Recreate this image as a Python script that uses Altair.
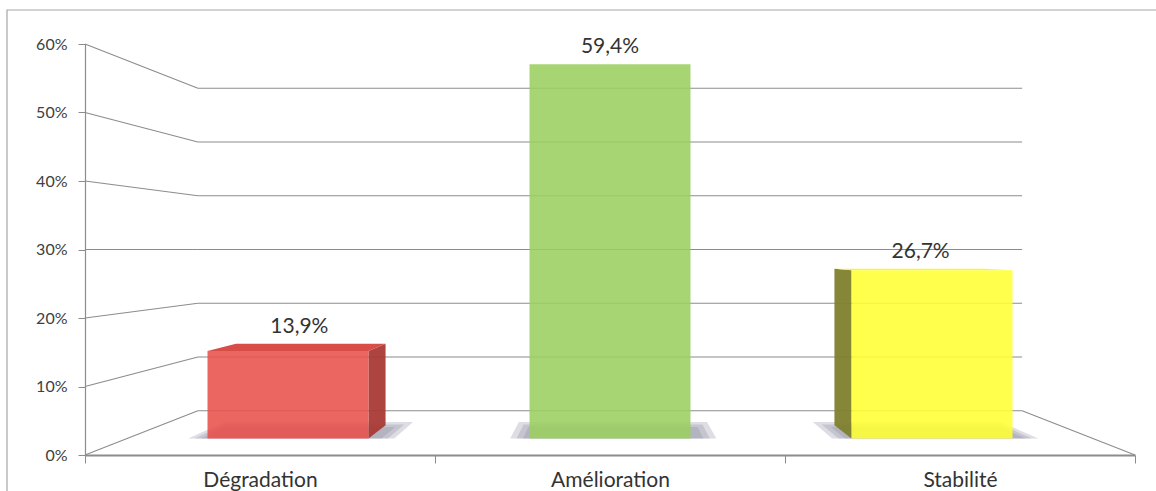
import altair as alt
import pandas as pd

# Chart data
categories = ["Dégradation", "Amélioration", "Stabilité"]
shares = [13.9, 59.4, 26.7]
tick_values = [0, 10, 20, 30, 40, 50, 60]

front_colors = ["#e8514b", "#9bcf60", "#ffff33"]
top_colors = ["#d6433e", "#8fc455", "#f4f43c"]
side_colors = ["#a93a35", "#6f9a3e", "#7f7f2e"]

# Simple one-point perspective: a point (u, v) on a plane at depth factor k
# is pulled toward the vanishing point (VP_U, VP_V).
VP_U, VP_V = 1.5, 30.0
K_WALL = 0.785      # back wall / back of the floor
K_FRONT = 0.92      # front face of the columns
K_BACK = 0.855      # back face of the columns
K_SHADOW = 0.84     # far edge of the floor shadow
HALF = 0.25         # half column width, in category units
N = len(categories)


def project(u, v, k):
    return VP_U + k * (u - VP_U), VP_V + k * (v - VP_V)


# Walls and floor outline
wall_rows = []
for t in tick_values:
    fx, fy = project(0, t, 1.0)
    bx, by = project(0, t, K_WALL)
    ex, ey = project(N, t, K_WALL)
    wall_rows.append({"x": fx, "y": fy, "x2": bx, "y2": by})   # side wall
    wall_rows.append({"x": bx, "y": by, "x2": ex, "y2": ey})   # back wall
bx, by = project(N, 0, K_WALL)
fx, fy = project(N, 0, 1.0)
wall_rows.append({"x": bx, "y": by, "x2": fx, "y2": fy})       # floor edge
walls = pd.DataFrame(wall_rows)

# Column geometry
front_rows, top_rows, side_rows, shadow_rows, label_rows = [], [], [], [], []
for i, (cat, val) in enumerate(zip(categories, shares)):
    u0, u1 = i + 0.5 - HALF, i + 0.5 + HALF
    fx0, fy0 = project(u0, 0, K_FRONT)
    fx1, fyv = project(u1, val, K_FRONT)
    front_rows.append({"cat": cat, "fill": front_colors[i],
                       "x": fx0, "x2": fx1, "y": fy0, "y2": fyv})

    # soft floor shadow, built from a few stacked translucent layers
    for j, grow in enumerate((0.06, 0.04, 0.02)):
        for k in (K_FRONT, K_SHADOW + 0.012 * j):
            sx0, sy = project(u0 - grow, 0, k)
            sx1, _ = project(u1 + grow + 0.02, 0, k)
            shadow_rows.append({"part": f"{cat}-{j}", "x": sx0, "x2": sx1, "y": sy})

    # top face, seen from above when the column is below eye level
    if val < VP_V:
        for k in (K_FRONT, K_BACK):
            tx0, ty = project(u0, val, k)
            tx1, _ = project(u1, val, k)
            top_rows.append({"cat": cat, "fill": top_colors[i], "x": tx0, "x2": tx1, "y": ty})

    # visible side face
    su = None
    if u1 < VP_U:
        su = u1
    elif u0 > VP_U:
        su = u0
    if su is not None:
        for k in (K_FRONT, K_BACK):
            sx, sy0 = project(su, 0, k)
            _, syv = project(su, val, k)
            side_rows.append({"cat": cat, "fill": side_colors[i], "x": sx, "y": sy0, "y2": syv})

    lx, _ = project(i + 0.5, val, (K_FRONT + K_BACK) / 2)
    ly = max(project(i + 0.5, val, K_FRONT)[1], project(i + 0.5, val, K_BACK)[1])
    label_rows.append({"cat": cat, "x": lx, "y": ly,
                       "text": f"{val:.1f}".replace(".", ",") + "%"})

fronts = pd.DataFrame(front_rows)
tops = pd.DataFrame(top_rows)
sides = pd.DataFrame(side_rows)
shadows = pd.DataFrame(shadow_rows)
labels = pd.DataFrame(label_rows)

FONT = "Lato"
GRID = "#8c8c8c"
xs = alt.Scale(domain=[0, N], nice=False, zero=False)
ys = alt.Scale(domain=[0, 60], nice=False, zero=False)
y_axis = alt.Axis(
    values=tick_values, labelExpr="datum.value + '%'", title=None, grid=False,
    tickSize=7, tickColor=GRID, domainColor=GRID, domainWidth=1.2, labelFont=FONT,
    labelFontSize=16, labelColor="#404040", labelPadding=11)


def X(field="x"):
    return alt.X(f"{field}:Q", scale=xs, axis=None)


def Y(field="y"):
    return alt.Y(f"{field}:Q", scale=ys, axis=y_axis)


FILL = alt.Color("fill:N", scale=None)

wall_layer = alt.Chart(walls).mark_rule(color=GRID, strokeWidth=1.1).encode(
    x=X(), x2="x2", y=Y(), y2="y2")

shadow_layer = alt.Chart(shadows).mark_area(
    orient="horizontal", color="#8e8ea2", opacity=0.3).encode(
    y=Y(), x=X(), x2="x2", detail="part:N")

side_layer = alt.Chart(sides).mark_area(orient="vertical", opacity=0.95).encode(
    x=X(), y=Y(), y2="y2", detail="cat:N", color=FILL)

top_layer = alt.Chart(tops).mark_area(orient="horizontal", opacity=0.95).encode(
    y=Y(), x=X(), x2="x2", detail="cat:N", color=FILL)

front_layer = alt.Chart(fronts).mark_rect(opacity=0.88).encode(
    x=X(), x2="x2", y=Y(), y2="y2", color=FILL)

label_layer = alt.Chart(labels).mark_text(
    font=FONT, fontSize=21, color="#333333", baseline="bottom", dy=-7).encode(
    x=X(), y=Y(), text="text:N")

scene = alt.layer(wall_layer, shadow_layer, side_layer, top_layer, front_layer, label_layer)

# Category axis along the front edge of the floor
category_axis = alt.Chart(pd.DataFrame({"cat": categories})).mark_point(opacity=0).encode(
    x=alt.X("cat:N", sort=categories, scale=alt.Scale(paddingInner=0, paddingOuter=0),
            axis=alt.Axis(orient="bottom", title=None, labelAngle=0, tickBand="extent",
                          tickSize=8, tickColor=GRID, domainColor=GRID, domainWidth=1.8,
                          labelFont=FONT, labelFontSize=21, labelColor="#333333",
                          labelPadding=6)),
    y=alt.value(0),
)

frame = alt.Chart(pd.DataFrame({"f": [0]})).mark_rect(
    fill=None, stroke="#a6a6a6", strokeWidth=1.2).encode(
    x=alt.value(-78), y=alt.value(-34), x2=alt.value(1200), y2=alt.value(600))

chart = alt.layer(frame, scene, category_axis).resolve_scale(x="independent").properties(
    width=1050, height=411,
    padding={"left": 85, "top": 44, "right": 21, "bottom": 36},
    autosize=alt.AutoSizeParams(type="none"),
    background="white",
).configure_view(stroke=None)

chart.save("out.html", embed_options={"renderer": "svg", "actions": False})
